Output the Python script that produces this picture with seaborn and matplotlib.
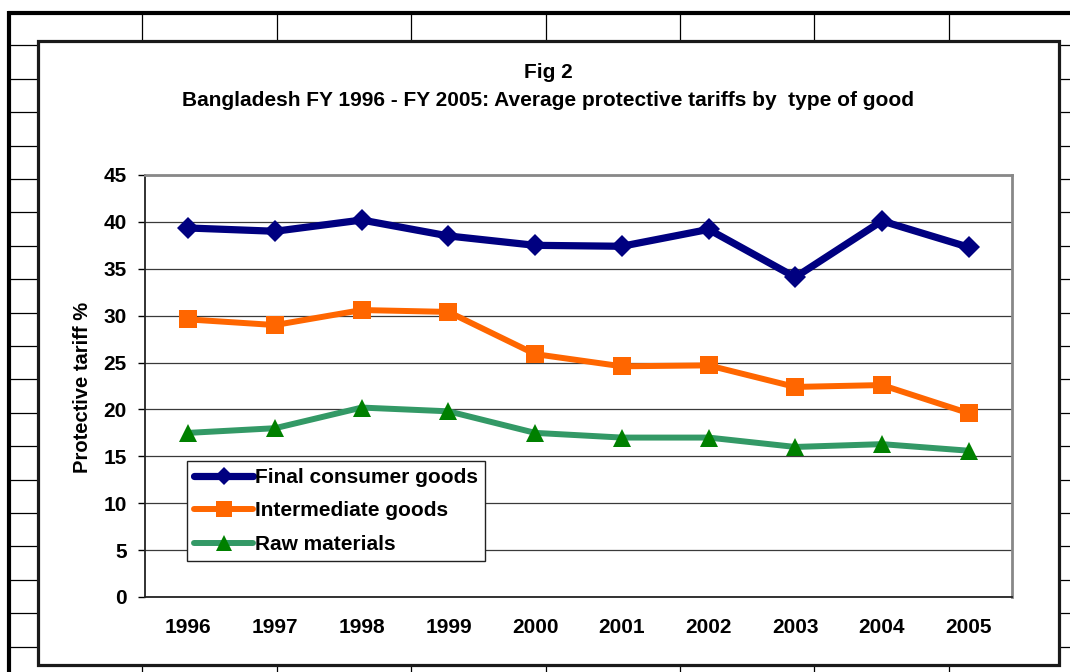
import numpy as np
import pandas as pd
import matplotlib
matplotlib.use("Agg")
import matplotlib.pyplot as plt
from matplotlib.lines import Line2D
from matplotlib.patches import Rectangle
import seaborn as sns

# ---------------- data ----------------
years = ["1996", "1997", "1998", "1999", "2000", "2001", "2002", "2003", "2004", "2005"]
final_consumer = [39.35, 39.0, 40.2, 38.5, 37.5, 37.4, 39.2, 34.1, 40.1, 37.3]
intermediate = [29.6, 29.0, 30.6, 30.4, 25.9, 24.6, 24.7, 22.4, 22.6, 19.6]
raw_materials = [17.5, 18.0, 20.2, 19.8, 17.5, 17.0, 17.0, 16.0, 16.3, 15.6]
series_names = ["Final consumer goods", "Intermediate goods", "Raw materials"]
y_ticks = [0, 5, 10, 15, 20, 25, 30, 35, 40, 45]
title_line1 = "Fig 2"
title_line2 = "Bangladesh FY 1996 - FY 2005: Average protective tariffs by  type of good"
y_label = "Protective tariff %"

sns.set_theme(style="white")
plt.rcParams["font.family"] = ["Liberation Sans", "DejaVu Sans"]
plt.rcParams["font.weight"] = "bold"
plt.rcParams["text.color"] = "black"
plt.rcParams["xtick.color"] = "black"
plt.rcParams["ytick.color"] = "black"
plt.rcParams["axes.labelcolor"] = "black"

W, H = 1070, 672
fig = plt.figure(figsize=(W / 100, H / 100), dpi=100)
fig.patch.set_facecolor("white")


def fx(px):
    return px / W


def fy(py):
    return 1 - py / H


# ---------------- spreadsheet background ----------------
col_x = [142.4, 276.8, 411.2, 545.6, 680.0, 814.4, 948.8]
for cx in col_x:
    fig.add_artist(Line2D([fx(cx), fx(cx)], [fy(12), fy(672)], color="black",
                          lw=0.9, zorder=0.2, transform=fig.transFigure))
for k in range(1, 20):
    ry = 12 + 33.4 * k
    fig.add_artist(Line2D([fx(8), fx(1070)], [fy(ry), fy(ry)], color="black",
                          lw=0.9, zorder=0.2, transform=fig.transFigure))
fig.add_artist(Line2D([fx(8), fx(1070)], [fy(12.5), fy(12.5)], color="black",
                      lw=3, zorder=0.3, transform=fig.transFigure, solid_capstyle="butt"))
fig.add_artist(Line2D([fx(8.5), fx(8.5)], [fy(11), fy(672)], color="black",
                      lw=3, zorder=0.3, transform=fig.transFigure, solid_capstyle="butt"))

# chart area box
fig.add_artist(Rectangle((fx(37.5), fy(665)), fx(1059) - fx(37.5), fy(41.5) - fy(665),
                         facecolor="white", edgecolor="#1a1a1a", lw=2.3,
                         zorder=1, transform=fig.transFigure))

# ---------------- plot ----------------
ax = fig.add_axes([fx(145), fy(597), fx(1012) - fx(145), fy(175) - fy(597)])
ax.set_zorder(5)
ax.set_facecolor("white")

x = np.arange(len(years))
df = pd.DataFrame({
    "pos": np.tile(x, 3),
    "value": final_consumer + intermediate + raw_materials,
    "series": np.repeat(series_names, len(years)),
})

styles = {
    "Final consumer goods": dict(color="#000080", marker="D", ms=11, lw=5.2,
                                 mfc="#000080", mec="#000080"),
    "Intermediate goods": dict(color="#FF6600", marker="s", ms=13.5, lw=4.3,
                               mfc="#FF6600", mec="#FF6600"),
    "Raw materials": dict(color="#339966", marker="^", ms=13.5, lw=4.3,
                          mfc="#008000", mec="#008000"),
}

for name in series_names:
    st = styles[name]
    sub = df[df["series"] == name]
    sns.lineplot(data=sub, x="pos", y="value", ax=ax, color=st["color"],
                 marker=st["marker"], markersize=st["ms"], linewidth=st["lw"],
                 markerfacecolor=st["mfc"], markeredgecolor=st["mec"],
                 markeredgewidth=0, label=name, zorder=3)

ax.set_xlim(-0.5, len(years) - 0.5)
ax.set_ylim(0, 45)
ax.set_yticks(y_ticks)
ax.set_yticklabels([str(t) for t in y_ticks], fontsize=15, fontweight="bold")
ax.set_xticks(x)
ax.set_xticklabels(years, fontsize=15, fontweight="bold")
ax.set_xticks(np.arange(-0.5, len(years), 1.0), minor=True)
ax.tick_params(axis="x", which="major", length=0, pad=15, colors="black")
ax.tick_params(axis="x", which="minor", length=5, width=1, direction="out", color="black")
ax.tick_params(axis="y", which="major", length=5, width=1, direction="out", pad=8,
               colors="black", left=True)
ax.set_xlabel("")
ax.set_ylabel("")
ax.grid(axis="y", color="#3a3a3a", lw=0.9)
ax.grid(axis="x", visible=False)
ax.set_axisbelow(True)

for side in ["left", "bottom"]:
    ax.spines[side].set_color("#222222")
    ax.spines[side].set_linewidth(1.3)
for side in ["top", "right"]:
    ax.spines[side].set_color("#888888")
    ax.spines[side].set_linewidth(2.0)

leg = ax.legend(loc="upper left", bbox_to_anchor=(fx(187), fy(461)),
                bbox_transform=fig.transFigure, borderaxespad=0,
                prop={"size": 15, "weight": "bold"}, frameon=True, fancybox=False,
                handlelength=2.85, handletextpad=0.1, labelspacing=0.7,
                borderpad=0.33, edgecolor="#222222", framealpha=1, markerscale=0.85)
leg.get_frame().set_linewidth(1.0)
for t in leg.get_texts():
    t.set_color("black")

# titles and y label
fig.text(fx(548), fy(72), title_line1, ha="center", va="center",
         fontsize=15, fontweight="bold", zorder=6)
fig.text(fx(548), fy(100), title_line2, ha="center", va="center",
         fontsize=15, fontweight="bold", zorder=6)
fig.text(fx(83), fy(387), y_label, ha="center", va="center", rotation=90,
         fontsize=14.5, fontweight="bold", zorder=6)

fig.savefig("out.png", dpi=100, facecolor="white")
